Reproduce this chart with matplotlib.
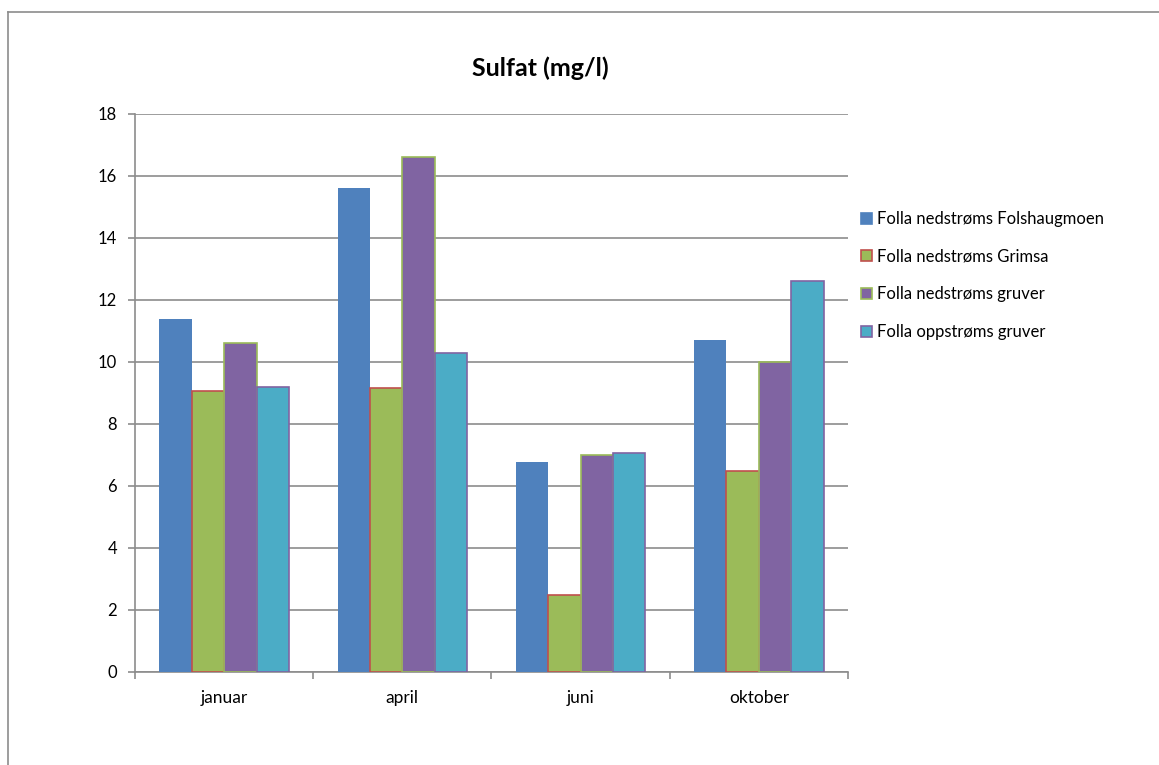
import matplotlib
matplotlib.use("Agg")
import matplotlib.pyplot as plt
from matplotlib.lines import Line2D
from matplotlib.patches import Patch
import numpy as np

plt.rcParams['font.family'] = ['Lato', 'DejaVu Sans']

categories = ["januar", "april", "juni", "oktober"]
series_names = ["Folla nedstrøms Folshaugmoen", "Folla nedstrøms Grimsa",
                "Folla nedstrøms gruver", "Folla oppstrøms gruver"]
folshaugmoen = [11.4, 15.6, 6.78, 10.7]
grimsa = [9.05, 9.15, 2.5, 6.48]
gruver_ned = [10.6, 16.6, 7.0, 10.0]
gruver_opp = [9.2, 10.3, 7.05, 12.6]
yticks = [0, 2, 4, 6, 8, 10, 12, 14, 16, 18]

face_colors = ["#4F81BD", "#9BBB59", "#8064A2", "#4BACC6"]
edge_colors = ["none", "#C0504D", "#9BBB59", "#8064A2"]

fig = plt.figure(figsize=(11.59, 7.65), dpi=100)
ax = fig.add_axes([135/1159, 1-672/765, (848-135)/1159, (672-114)/765])

x = np.arange(len(categories))
w = 1/5.5
data = [folshaugmoen, grimsa, gruver_ned, gruver_opp]
for i, (vals, fc, ec) in enumerate(zip(data, face_colors, edge_colors)):
    ax.bar(x + (i - 1.5) * w, vals, width=w, color=fc,
           edgecolor=ec, linewidth=1.2 if ec != "none" else 0, zorder=3)

ax.set_xlim(-0.5, len(categories) - 0.5)
ax.set_ylim(0, 18)
ax.set_yticks(yticks)
ax.set_yticklabels([str(t) for t in yticks], fontsize=12)
ax.yaxis.grid(True, color="#8C8C8C", linewidth=1.2, zorder=0)
ax.set_axisbelow(True)

ax.set_xticks(np.arange(-0.5, len(categories), 1))
ax.set_xticklabels([])
ax.set_xticks(x, minor=True)
ax.set_xticklabels(categories, minor=True, fontsize=12.5)
ax.tick_params(axis='x', which='minor', length=0, pad=13)
ax.tick_params(axis='x', which='major', length=5, color="#8C8C8C", width=1.2, direction='out')
ax.tick_params(axis='y', length=5, color="#8C8C8C", width=1.2, direction='out', pad=8)

for s in ["top", "right"]:
    ax.spines[s].set_visible(False)
for s in ["left", "bottom"]:
    ax.spines[s].set_color("#8C8C8C")
    ax.spines[s].set_linewidth(1.2)

fig.text(540/1159, 1-68/765, "Sulfat (mg/l)", fontsize=18, fontweight='bold',
         ha='center', va='center')

handles = [Patch(facecolor=fc, edgecolor=(ec if ec != "none" else fc), linewidth=1.2)
           for fc, ec in zip(face_colors, edge_colors)]
fig.legend(handles, series_names, loc='upper left',
           bbox_to_anchor=(846/1159, 1-196/765), frameon=False, fontsize=12,
           handlelength=0.65, handleheight=0.65, handletextpad=0.3, labelspacing=1.3)

# outer chart frame (cropped)
fig.add_artist(Line2D([8/1159, 8/1159], [0, 1-12/765], transform=fig.transFigure,
                      color="#8C8C8C", linewidth=1.2))
fig.add_artist(Line2D([8/1159, 1], [1-12/765, 1-12/765], transform=fig.transFigure,
                      color="#8C8C8C", linewidth=1.2))

fig.savefig("out.png", dpi=100)
